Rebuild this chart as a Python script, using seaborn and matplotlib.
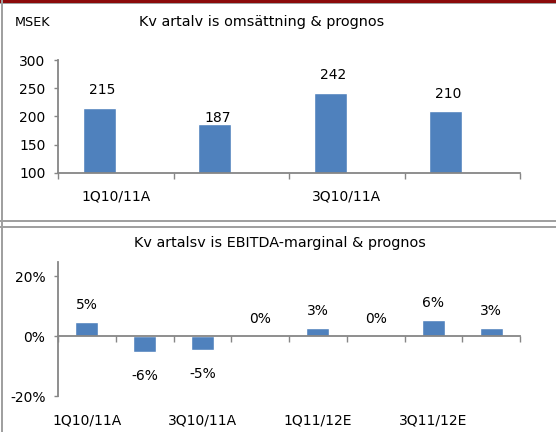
import numpy as np
import pandas as pd
import seaborn as sns
import matplotlib.pyplot as plt
from matplotlib.patches import Rectangle

# Data
kvartal_oms = ["1Q10/11A", "2Q10/11A", "3Q10/11A", "4Q10/11A"]
omsattning = [215, 187, 242, 210]
oms_etiketter = ["215", "187", "242", "210"]

kvartal_ebitda = ["1Q10/11A", "2Q10/11A", "3Q10/11A", "4Q10/11A",
                  "1Q11/12E", "2Q11/12E", "3Q11/12E", "4Q11/12E"]
ebitda_marginal = [4.7, -5.4, -4.8, 0.0, 2.8, 0.0, 5.3, 2.8]
ebitda_etiketter = ["5%", "-6%", "-5%", "0%", "3%", "0%", "6%", "3%"]

BLA = "#4F81BD"
GRA = "#868686"

sns.set_theme(style="white")
plt.rcParams["font.family"] = ["DejaVu Sans"]
plt.rcParams["text.color"] = "black"
plt.rcParams["xtick.labelcolor"] = "black"
plt.rcParams["ytick.labelcolor"] = "black"

fig = plt.figure(figsize=(5.56, 4.32), dpi=100)
W, H = 556, 432

# ramar
def rekt(x, y, w, h, c):
    fig.add_artist(Rectangle((x / W, 1 - (y + h) / H), w / W, h / H,
                             transform=fig.transFigure, color=c, lw=0))

rekt(0, 0, W, 2.5, "#8B0A0A")
rekt(0, 2.7, W, 1.5, "#A0A0A0")
rekt(0, 220, W, 1.8, "#A0A0A0")
rekt(0, 225.8, W, 1.8, "#A0A0A0")
rekt(1, 0, 2.2, H, "#A0A0A0")


def stil(ax):
    sns.despine(ax=ax)
    for s in ["left", "bottom"]:
        ax.spines[s].set_color(GRA)
        ax.spines[s].set_linewidth(1.3)
    ax.tick_params(axis="y", which="major", length=3, width=1, color=GRA,
                   direction="out", pad=6, labelsize=10, left=True,
                   labelcolor="black")
    ax.tick_params(axis="x", which="minor", length=4, width=1, color=GRA,
                   direction="out", bottom=True)
    ax.tick_params(axis="x", which="major", length=0, labelsize=10,
                   labelcolor="black")
    ax.set_xlabel("")
    ax.set_ylabel("")


# --- Omsättning ---
ax1 = fig.add_axes([58 / W, 1 - 173 / H, 462 / W, 113 / H])
df1 = pd.DataFrame({"kvartal": kvartal_oms + kvartal_oms,
                    "varde": omsattning + [np.nan] * 4,
                    "serie": ["Utfall"] * 4 + ["Prognos"] * 4})
sns.barplot(data=df1, x="kvartal", y="varde", hue="serie",
            hue_order=["Utfall", "Prognos"], palette=[BLA, BLA],
            width=0.57, dodge=True, legend=False, ax=ax1, saturation=1)
ax1.set_ylim(100, 300)
ax1.set_yticks([100, 150, 200, 250, 300])
ax1.set_xlim(-0.5, 3.5)
stil(ax1)
ax1.set_xticks(np.arange(-0.5, 4, 1), minor=True)
ax1.set_xticks([0, 2])
ax1.set_xticklabels([kvartal_oms[0], kvartal_oms[2]])
ax1.tick_params(axis="x", which="major", pad=12)
staplar = [p for p in ax1.patches if np.isfinite(p.get_height()) and p.get_height() > 0]
oms_offset = [13, 4.5, 13, 12]
for bar, lab, off in zip(staplar, oms_etiketter, oms_offset):
    ax1.annotate(lab, (bar.get_x() + bar.get_width() / 2, bar.get_height()),
                 xytext=(2, off), textcoords="offset points",
                 ha="center", va="center", fontsize=10, color="black")

fig.text(262 / W, 1 - 22 / H, "Kv artalv is omsättning & prognos",
         ha="center", va="center", fontsize=10.4, color="black")
fig.text(15 / W, 1 - 22 / H, "MSEK", ha="left", va="center", fontsize=9.2,
         color="black")

# --- EBITDA-marginal ---
ax2 = fig.add_axes([58 / W, 1 - 396 / H, 462 / W, 134 / H])
df2 = pd.DataFrame({"kvartal": kvartal_ebitda, "varde": ebitda_marginal})
sns.barplot(data=df2, x="kvartal", y="varde", color=BLA, width=0.4,
            ax=ax2, saturation=1)
ax2.set_ylim(-20, 24.7)
ax2.set_yticks([-20, 0, 20])
ax2.set_yticklabels(["-20%", "0%", "20%"])
ax2.set_xlim(-0.5, 7.5)
stil(ax2)
ax2.spines["bottom"].set_position(("data", 0))
ax2.set_xticks(np.arange(-0.5, 8, 1), minor=True)
ax2.set_xticks([0, 2, 4, 6])
ax2.set_xticklabels([kvartal_ebitda[i] for i in [0, 2, 4, 6]])
ax2.tick_params(axis="x", which="major", pad=56)
for bar, v, lab in zip(ax2.patches, ebitda_marginal, ebitda_etiketter):
    off = 12 if v >= 0 else -17
    ax2.annotate(lab, (bar.get_x() + bar.get_width() / 2, v),
                 xytext=(0, off), textcoords="offset points",
                 ha="center", va="center", fontsize=10, color="black")

fig.text(280 / W, 1 - 243 / H, "Kv artalsv is EBITDA-marginal & prognos",
         ha="center", va="center", fontsize=10.4, color="black")

fig.savefig("out.png", dpi=100)
